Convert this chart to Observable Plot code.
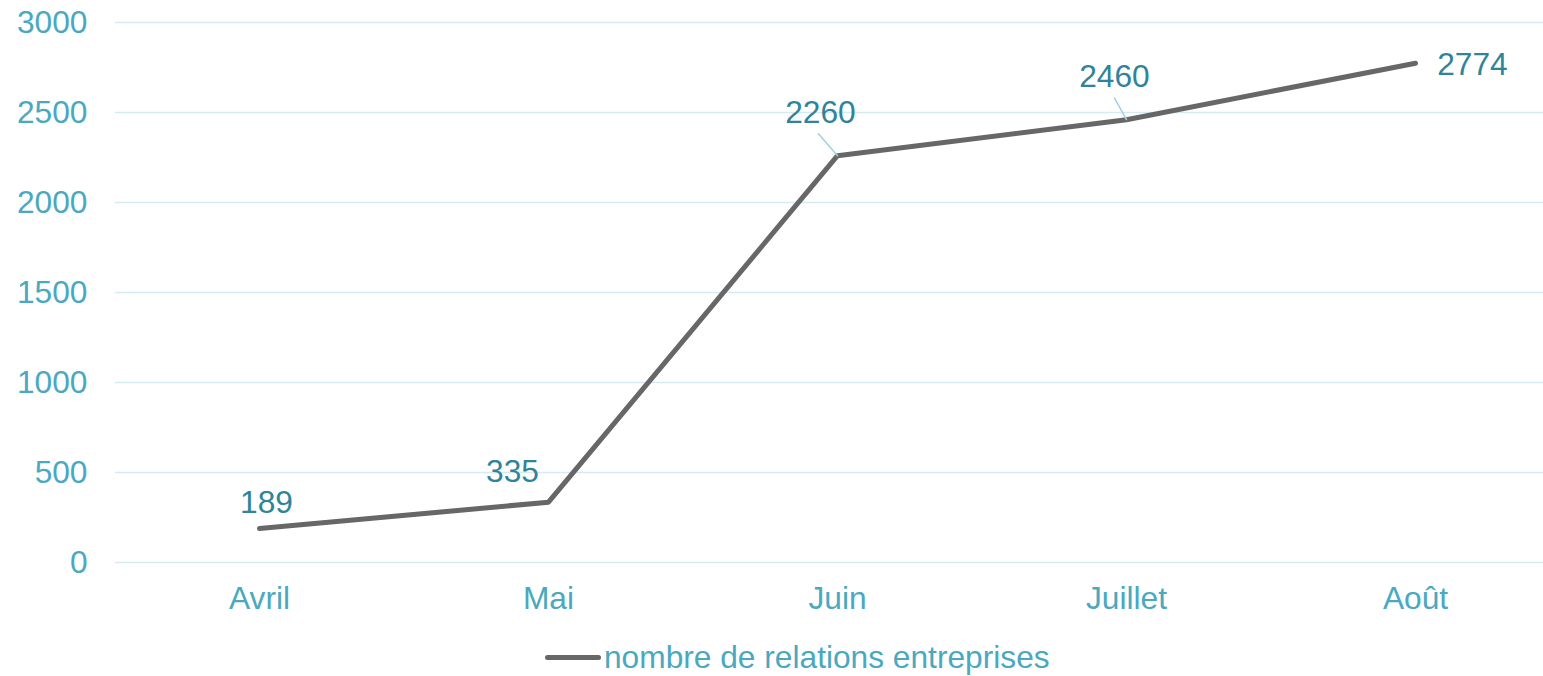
<!DOCTYPE html>
<html>
<head>
<meta charset="utf-8">
<script src="https://cdn.jsdelivr.net/npm/d3@7"></script>
<script src="https://cdn.jsdelivr.net/npm/@observablehq/plot@0.6"></script>
<style>
  html, body { margin: 0; padding: 0; background: #fff; }
  body { width: 1543px; height: 676px; overflow: hidden; font-family: "Liberation Sans", Arial, sans-serif; }
  #legend { display: flex; align-items: center; height: 46px; margin-left: 545px; color: #4aa8c0; font-size: 31.7px; padding-top: 4px; }
  #legend .sw { width: 56px; height: 5px; border-radius: 3px; background: #676767; margin-right: 3px; }
</style>
</head>
<body>
<div id="chart"></div>
<div id="legend"><span class="sw"></span><span>nombre de relations entreprises</span></div>
<script>
const months = ["Avril", "Mai", "Juin", "Juillet", "Août"];
const values = [189, 335, 2260, 2460, 2774];
const yTicks = [0, 500, 1000, 1500, 2000, 2500, 3000];
const seriesName = "nombre de relations entreprises";

const data = months.map((m, i) => ({month: m, value: values[i]}));

// label placement (pixel offsets), style only
const labelOffsets = {
  "Avril": [7, -26],
  "Mai": [-36, -30],
  "Juin": [-17, -43],
  "Juillet": [-12, -43],
  "Août": [57, 2]
};
const leaders = {"Juin": [29, -41], "Juillet": [25, -29]};

const axisColor = "#4aa8c0";
const labelColor = "#2f8499";
const fs = 31.7;

const labelMarks = months.map(m => Plot.text(data.filter(d => d.month === m), {
  x: "month", y: "value", text: d => String(d.value),
  dx: labelOffsets[m][0], dy: labelOffsets[m][1],
  fill: labelColor, fontSize: fs, textAnchor: "middle", lineAnchor: "middle"
}));

const leaderShape = {draw(context, l) { context.moveTo(0, 0); context.lineTo(0, -l); }};
const leaderMarks = Object.keys(leaders).map(m => Plot.vector(data.filter(d => d.month === m), {
  x: "month", y: "value", length: leaders[m][0], rotate: leaders[m][1],
  anchor: "start", shape: leaderShape, stroke: "#9fd2df", strokeWidth: 1.5
}));

const chart = Plot.plot({
  width: 1543,
  height: 630,
  marginLeft: 115,
  marginRight: 0,
  marginTop: 22,
  marginBottom: 68,
  style: {fontFamily: "'Liberation Sans', Arial, sans-serif", fontSize: fs + "px", background: "#fff"},
  x: {type: "point", domain: months, padding: 0, insetLeft: 144, insetRight: 128, label: null},
  y: {domain: [0, 3000], label: null},
  marks: [
    Plot.gridY(yTicks, {stroke: "#d5ebf1", strokeOpacity: 1, strokeWidth: 1.5}),
    Plot.axisY(yTicks, {tickSize: 0, tickPadding: 28, fill: axisColor, fontSize: fs, label: null, textAnchor: "end", tickFormat: d => String(d)}),
    Plot.axisX(months, {tickSize: 0, tickPadding: 24, fill: axisColor, fontSize: fs, label: null}),
    Plot.line(data, {x: "month", y: "value", stroke: "#676767", strokeWidth: 5, strokeLinecap: "round", strokeLinejoin: "round"}),
    ...leaderMarks,
    ...labelMarks
  ]
});
document.getElementById("chart").appendChild(chart);
</script>
</body>
</html>
